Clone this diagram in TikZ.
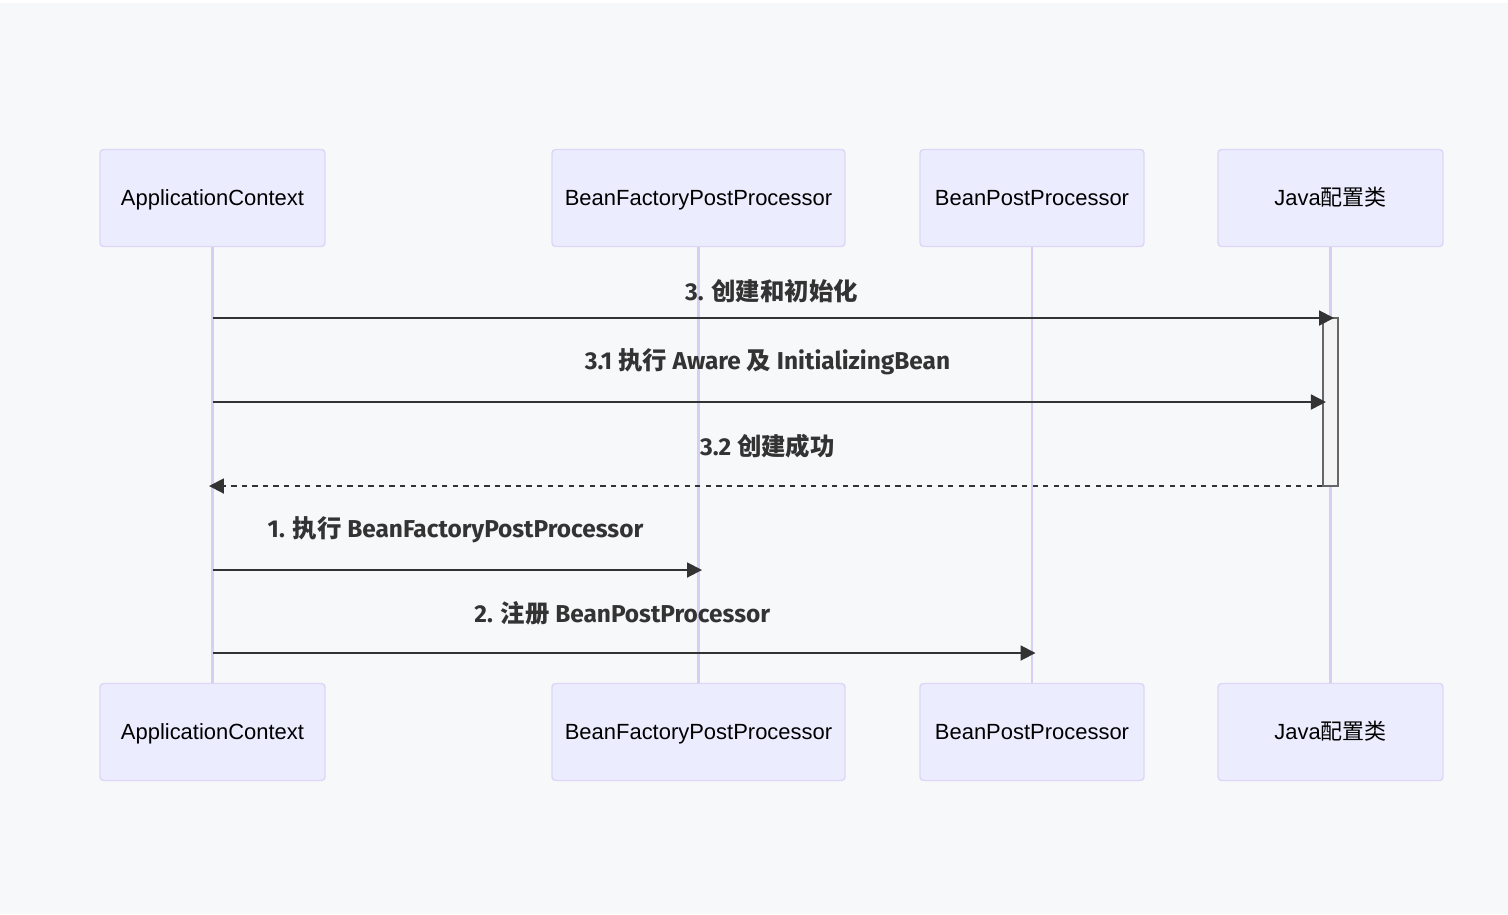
\documentclass[tikz,border=0pt]{standalone}
\usepackage{fontspec}
\setmainfont{Liberation Sans}
\newfontfamily\zhfont{Noto Sans CJK SC}
\newfontfamily\lblfont{Fira Sans}
\usetikzlibrary{arrows.meta}
\definecolor{bgGray}{RGB}{247,248,250}
\definecolor{actFill}{RGB}{236,236,255}
\definecolor{actLine}{RGB}{222,214,246}
\definecolor{lifeInk}{RGB}{216,206,244}
\definecolor{msgInk}{RGB}{51,51,51}
\definecolor{actvFill}{RGB}{244,244,244}
\definecolor{actvLine}{RGB}{102,102,102}
\newcommand{\zh}[1]{{\zhfont #1}}

\begin{document}
\begin{tikzpicture}[x=0.02cm,y=-0.02cm,font=\fontsize{12.5}{15}\selectfont]
  \tikzset{actor/.style={draw=actLine,line width=0.8pt,fill=actFill,rounded corners=2pt,minimum height=1.94cm,text height=11.5pt,text depth=2.5pt,text=black},
    life/.style={draw=lifeInk,line width=1.5pt},
    msg/.style={draw=msgInk,line width=1.1pt,-{Triangle[length=0.3cm,width=0.3cm]},shorten >=-2pt},
    lbl/.style={font=\lblfont\bfseries\fontsize{13.9}{16}\selectfont,text=msgInk}}
  % canvas
  \fill[white] (0,0) rectangle (1508,914);
  \fill[bgGray] (0,3) rectangle (1508,914);
  % actors, top and bottom row
  \node[actor,minimum width=4.5cm] (ac) at (212.5,198) {ApplicationContext};
  \node[actor,minimum width=5.86cm] (bfpp) at (698.5,198) {BeanFactoryPostProcessor};
  \node[actor,minimum width=4.48cm] (bpp) at (1032,198) {BeanPostProcessor};
  \node[actor,minimum width=4.5cm] (jc) at (1330.5,198) {Java\zh{配置类}};
  \node[actor,minimum width=4.5cm] (ac2) at (212.5,732) {ApplicationContext};
  \node[actor,minimum width=5.86cm] (bfpp2) at (698.5,732) {BeanFactoryPostProcessor};
  \node[actor,minimum width=4.48cm] (bpp2) at (1032,732) {BeanPostProcessor};
  \node[actor,minimum width=4.5cm] (jc2) at (1330.5,732) {Java\zh{配置类}};
  % lifelines
  \draw[life] (ac.south) -- (ac2.north);
  \draw[life] (bfpp.south) -- (bfpp2.north);
  \draw[life] (bpp.south) -- (bpp2.north);
  \draw[life] (jc.south) -- (jc2.north);
  % message heights
  \coordinate (y3) at (0,318);
  \coordinate (y31) at (0,402);
  \coordinate (y32) at (0,486);
  \coordinate (y1) at (0,570);
  \coordinate (y2) at (0,653);
  % activation on Java config
  \node[draw=actvLine,fill=actvFill,line width=0.7pt,minimum width=0.3cm,minimum height=3.36cm,inner sep=0pt] (actv) at (1330.5,402) {};
  \draw[msg] (ac|-y3) -- (jc|-y3) node[midway,yshift=0.54cm,lbl] (l3) {3. \zh{创建和初始化}};
  \draw[msg] (ac|-y31) -- (actv.west|-y31) node[midway,yshift=0.8cm,lbl] (l31) {3.1 \zh{执行} Aware \zh{及} InitializingBean};
  \draw[msg,dashed] (actv.west|-y32) -- (ac|-y32) node[midway,yshift=0.8cm,lbl] (l32) {3.2 \zh{创建成功}};
  \draw[msg] (ac|-y1) -- (bfpp|-y1) node[midway,yshift=0.8cm,lbl] (l1) {1. \zh{执行} BeanFactoryPostProcessor};
  \draw[msg] (ac|-y2) -- (bpp|-y2) node[midway,yshift=0.8cm,lbl] (l2) {2. \zh{注册} BeanPostProcessor};
\end{tikzpicture}
\end{document}
